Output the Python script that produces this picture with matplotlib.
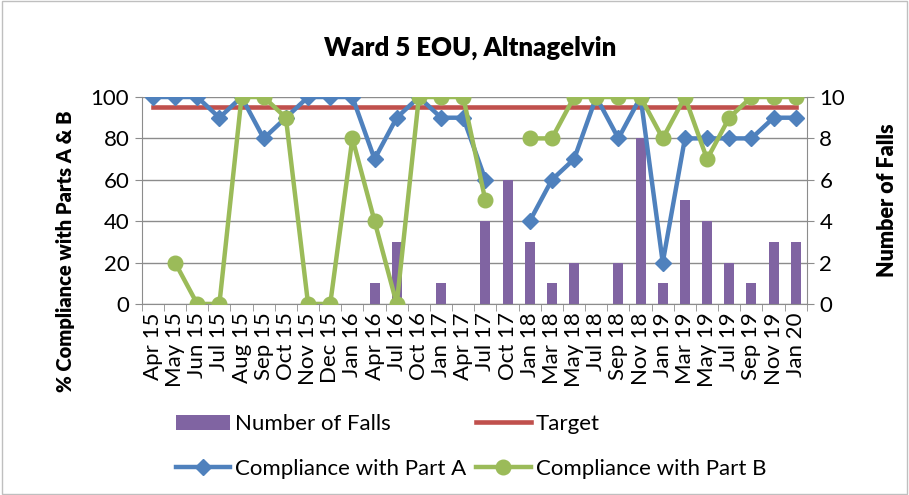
import numpy as np
import matplotlib.pyplot as plt
from matplotlib.patches import Rectangle

plt.rcParams['font.family'] = ['Lato', 'DejaVu Sans']

months = ['Apr 15', 'May 15', 'Jun 15', 'Jul 15', 'Aug 15', 'Sep 15', 'Oct 15',
          'Nov 15', 'Dec 15', 'Jan 16', 'Apr 16', 'Jul 16', 'Oct 16', 'Jan 17',
          'Apr 17', 'Jul 17', 'Oct 17', 'Jan 18', 'Mar 18', 'May 18', 'Jul 18',
          'Sep 18', 'Nov 18', 'Jan 19', 'Mar 19', 'May 19', 'Jul 19', 'Sep 19',
          'Nov 19', 'Jan 20']
falls = [0, 0, 0, 0, 0, 0, 0, 0, 0, 0, 1, 3, 0, 1, 0, 4, 6, 3, 1, 2, 0, 2, 8,
         1, 5, 4, 2, 1, 3, 3]
part_a = [100, 100, 100, 90, 100, 80, 90, 100, 100, 100, 70, 90, 100, 90, 90,
          60, np.nan, 40, 60, 70, 100, 80, 100, 20, 80, 80, 80, 80, 90, 90]
part_b = [np.nan, 20, 0, 0, 100, 100, 90, 0, 0, 80, 40, 0, 100, 100, 100, 50,
          np.nan, 80, 80, 100, 100, 100, 100, 80, 100, 70, 90, 100, 100, 100]
target = 95

x = np.arange(len(months))

fig = plt.figure(figsize=(9.09, 4.95), dpi=100)
ax2 = fig.add_axes([0.156, 0.386, 0.7316, 0.418])
ax = ax2.twinx()
ax.yaxis.tick_left()
ax.yaxis.set_label_position('left')
ax2.yaxis.tick_right()
ax2.yaxis.set_label_position('right')
ax.set_zorder(ax2.get_zorder() + 1)
ax.patch.set_visible(False)

# bars (right axis) behind the lines
bars = ax2.bar(x, falls, width=0.45, color='#8064a2', label='Number of Falls', zorder=2)
ax2.set_ylim(0, 10)
ax2.set_yticks(range(0, 11, 2))
ax2.grid(axis='y', color='#8c8c8c', linewidth=1, zorder=0)
ax2.set_axisbelow(True)

tl, = ax.plot(x, [target] * len(x), color='#c0504d', linewidth=3.3, label='Target')
la, = ax.plot(x, part_a, color='#4f81bd', linewidth=3.2, marker='D', markersize=8,
              label='Compliance with Part A')
lb, = ax.plot(x, part_b, color='#9bbb59', linewidth=3.2, marker='o', markersize=10.5,
              label='Compliance with Part B')
ax.set_ylim(0, 100)
ax.set_yticks(range(0, 101, 20))
ax.set_xlim(-0.5, len(x) - 0.5)

ax2.set_xticks(x)
ax2.set_xticklabels(months, rotation=90, fontsize=16)
ax2.set_xticks(np.arange(-0.5, len(x)), minor=True)
ax2.tick_params(axis='x', which='major', length=0, pad=6)
ax2.tick_params(axis='x', which='minor', length=5, color='#8c8c8c')
ax2.tick_params(axis='y', labelsize=16, length=5, color='#8c8c8c', pad=4)
ax.tick_params(axis='y', labelsize=16, length=5, color='#8c8c8c', pad=4)

for a in (ax, ax2):
    for s in a.spines.values():
        s.set_visible(False)
for s in ('bottom', 'left', 'right'):
    ax2.spines[s].set_visible(True)
    ax2.spines[s].set_color('#8c8c8c')

ax.set_ylabel('% Compliance with Parts A & B', fontsize=14.5, fontweight='heavy')
ax.yaxis.set_label_coords(-0.1, 0.256)
ax2.set_ylabel('Number of Falls', fontsize=15.5, fontweight='heavy', rotation=90)
ax2.yaxis.set_label_coords(1.106, 0.5)
fig.text(0.517, 0.903, 'Ward 5 EOU, Altnagelvin', fontsize=18.5, fontweight='heavy',
         ha='center', va='center')

fig.legend([bars, la, tl, lb],
           ['Number of Falls', 'Compliance with Part A', 'Target', 'Compliance with Part B'],
           ncol=2, frameon=False, fontsize=16, loc='center', bbox_to_anchor=(0.518, 0.098),
           handlelength=2.45, handletextpad=0.22, columnspacing=0.45, labelspacing=1.1)

fig.patches.append(Rectangle((0.002, 0.002), 0.996, 0.996, transform=fig.transFigure,
                             fill=False, edgecolor='#bfbfbf', linewidth=1))

fig.savefig('out.png', dpi=100)
